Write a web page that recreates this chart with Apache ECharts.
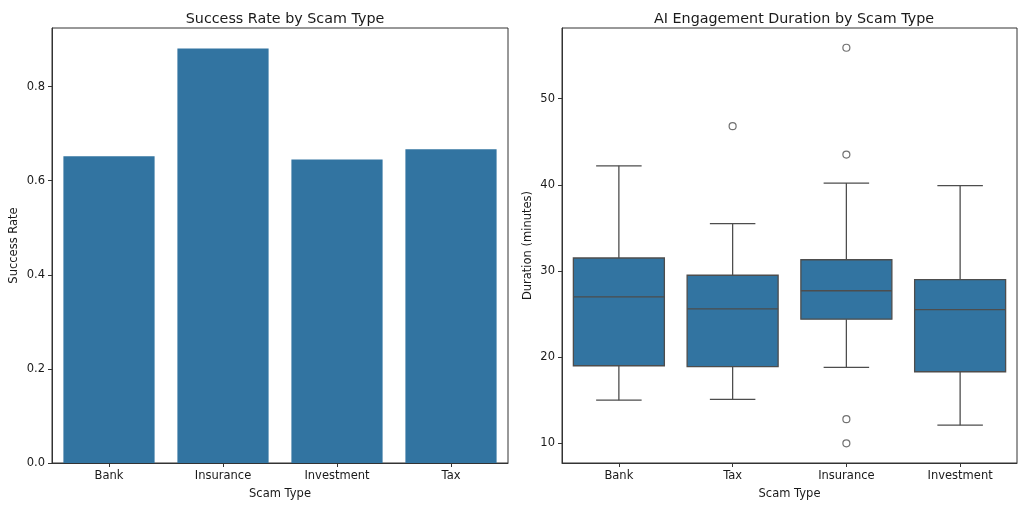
<!DOCTYPE html>
<html>
<head>
<meta charset="utf-8">
<script src="https://cdn.jsdelivr.net/npm/echarts@6/dist/echarts.min.js"></script>
<style>
html,body{margin:0;padding:0;background:#fff;}
#chart{width:1024px;height:508px;}
</style>
</head>
<body>
<div id="chart"></div>
<script>
// Left chart: success rate
const barCategories = ['Bank', 'Insurance', 'Investment', 'Tax'];
const successRates = [0.652, 0.881, 0.645, 0.667];
const successTicks = [0, 0.2, 0.4, 0.6, 0.8];

// Right chart: duration boxplot
const boxCategories = ['Bank', 'Tax', 'Insurance', 'Investment'];
const whiskerLow = [15.0, 15.1, 18.8, 12.1];
const quartile1 = [19.0, 18.9, 24.4, 18.3];
const medians = [27.0, 25.6, 27.7, 25.5];
const quartile3 = [31.5, 29.5, 31.3, 29.0];
const whiskerHigh = [42.2, 35.5, 40.2, 39.9];
const outlierCategory = ['Tax', 'Insurance', 'Insurance', 'Insurance', 'Insurance'];
const outlierValues = [46.8, 55.9, 43.5, 12.8, 10.0];
const durationTicks = [10, 20, 30, 40, 50];

const BLUE = '#3274a1';
const LINE = '#4d4d4d';
const FONT = 'DejaVu Sans';
const TXT = '#1a1a1a';

const boxData = boxCategories.map((c, i) => [i, whiskerLow[i], quartile1[i], medians[i], quartile3[i], whiskerHigh[i]]);
const outlierData = outlierCategory.map((c, i) => [c, outlierValues[i]]);

const axisCommon = {
  axisLine: { show: true, lineStyle: { color: '#333', width: 1 } },
  splitLine: { show: false },
  nameTextStyle: { fontFamily: FONT, fontSize: 11.5, color: TXT },
};

const chart = echarts.init(document.getElementById('chart'), null, { renderer: 'canvas' });
chart.setOption({
  animation: false,
  backgroundColor: '#fff',
  title: [
    { text: 'Success Rate by Scam Type', left: 280, top: 7, textAlign: 'center',
      textStyle: { fontFamily: FONT, fontSize: 14.3, fontWeight: 'normal', color: TXT } },
    { text: 'AI Engagement Duration by Scam Type', left: 789, top: 7, textAlign: 'center',
      textStyle: { fontFamily: FONT, fontSize: 14.3, fontWeight: 'normal', color: TXT } }
  ],
  grid: [
    { left: 52, right: 516, top: 28, bottom: 45, show: true, borderColor: '#333', borderWidth: 1, containLabel: false },
    { left: 562, right: 7, top: 28, bottom: 45, show: true, borderColor: '#333', borderWidth: 1, containLabel: false }
  ],
  xAxis: [
    Object.assign({}, axisCommon, {
      gridIndex: 0, type: 'category', data: barCategories,
      name: 'Scam Type', nameLocation: 'middle', nameGap: 25,
      axisTick: { show: true, alignWithLabel: true, length: 4, lineStyle: { color: '#333' } },
      axisLabel: { fontFamily: FONT, fontSize: 11.5, color: TXT, margin: 7 }
    }),
    Object.assign({}, axisCommon, {
      gridIndex: 1, type: 'category', data: boxCategories,
      name: 'Scam Type', nameLocation: 'middle', nameGap: 25,
      axisTick: { show: true, alignWithLabel: true, length: 4, lineStyle: { color: '#333' } },
      axisLabel: { fontFamily: FONT, fontSize: 11.5, color: TXT, margin: 7 }
    })
  ],
  yAxis: [
    Object.assign({}, axisCommon, {
      gridIndex: 0, type: 'value', min: 0, max: 0.9245,
      name: 'Success Rate', nameLocation: 'middle', nameGap: 32,
      axisTick: { show: true, length: 4, lineStyle: { color: '#333' }, customValues: successTicks },
      axisLabel: { fontFamily: FONT, fontSize: 11.5, color: TXT, margin: 7, customValues: successTicks,
        formatter: function (v) { return v.toFixed(1); } }
    }),
    Object.assign({}, axisCommon, {
      gridIndex: 1, type: 'value', min: 7.714, max: 58.19,
      name: 'Duration (minutes)', nameLocation: 'middle', nameGap: 28,
      axisTick: { show: true, length: 4, lineStyle: { color: '#333' }, customValues: durationTicks },
      axisLabel: { fontFamily: FONT, fontSize: 11.5, color: TXT, margin: 7, customValues: durationTicks,
        formatter: function (v) { return String(Math.round(v)); } }
    })
  ],
  series: [
    {
      type: 'bar', xAxisIndex: 0, yAxisIndex: 0, data: successRates,
      barCategoryGap: '20%', itemStyle: { color: BLUE }
    },
    {
      type: 'custom', xAxisIndex: 1, yAxisIndex: 1, data: boxData,
      encode: { x: 0, y: [1, 2, 3, 4, 5] },
      renderItem: function (params, api) {
        const idx = api.value(0);
        const band = api.size([1, 0])[0];
        const bw = band * 0.8;
        const cw = band * 0.4;
        const pLow = api.coord([idx, api.value(1)]);
        const pQ1 = api.coord([idx, api.value(2)]);
        const pMed = api.coord([idx, api.value(3)]);
        const pQ3 = api.coord([idx, api.value(4)]);
        const pHigh = api.coord([idx, api.value(5)]);
        const x = pMed[0];
        const ls = { stroke: LINE, lineWidth: 1.3 };
        return {
          type: 'group',
          children: [
            { type: 'line', shape: { x1: x, y1: pQ1[1], x2: x, y2: pLow[1] }, style: ls },
            { type: 'line', shape: { x1: x, y1: pQ3[1], x2: x, y2: pHigh[1] }, style: ls },
            { type: 'line', shape: { x1: x - cw / 2, y1: pLow[1], x2: x + cw / 2, y2: pLow[1] }, style: ls },
            { type: 'line', shape: { x1: x - cw / 2, y1: pHigh[1], x2: x + cw / 2, y2: pHigh[1] }, style: ls },
            { type: 'rect', shape: { x: x - bw / 2, y: pQ3[1], width: bw, height: pQ1[1] - pQ3[1] },
              style: { fill: BLUE, stroke: LINE, lineWidth: 1.3 } },
            { type: 'line', shape: { x1: x - bw / 2, y1: pMed[1], x2: x + bw / 2, y2: pMed[1] }, style: ls }
          ]
        };
      }
    },
    {
      type: 'scatter', xAxisIndex: 1, yAxisIndex: 1, data: outlierData,
      symbol: 'circle', symbolSize: 7,
      itemStyle: { color: '#fff', borderColor: LINE, borderWidth: 1.2 }
    }
  ]
});
</script>
</body>
</html>
